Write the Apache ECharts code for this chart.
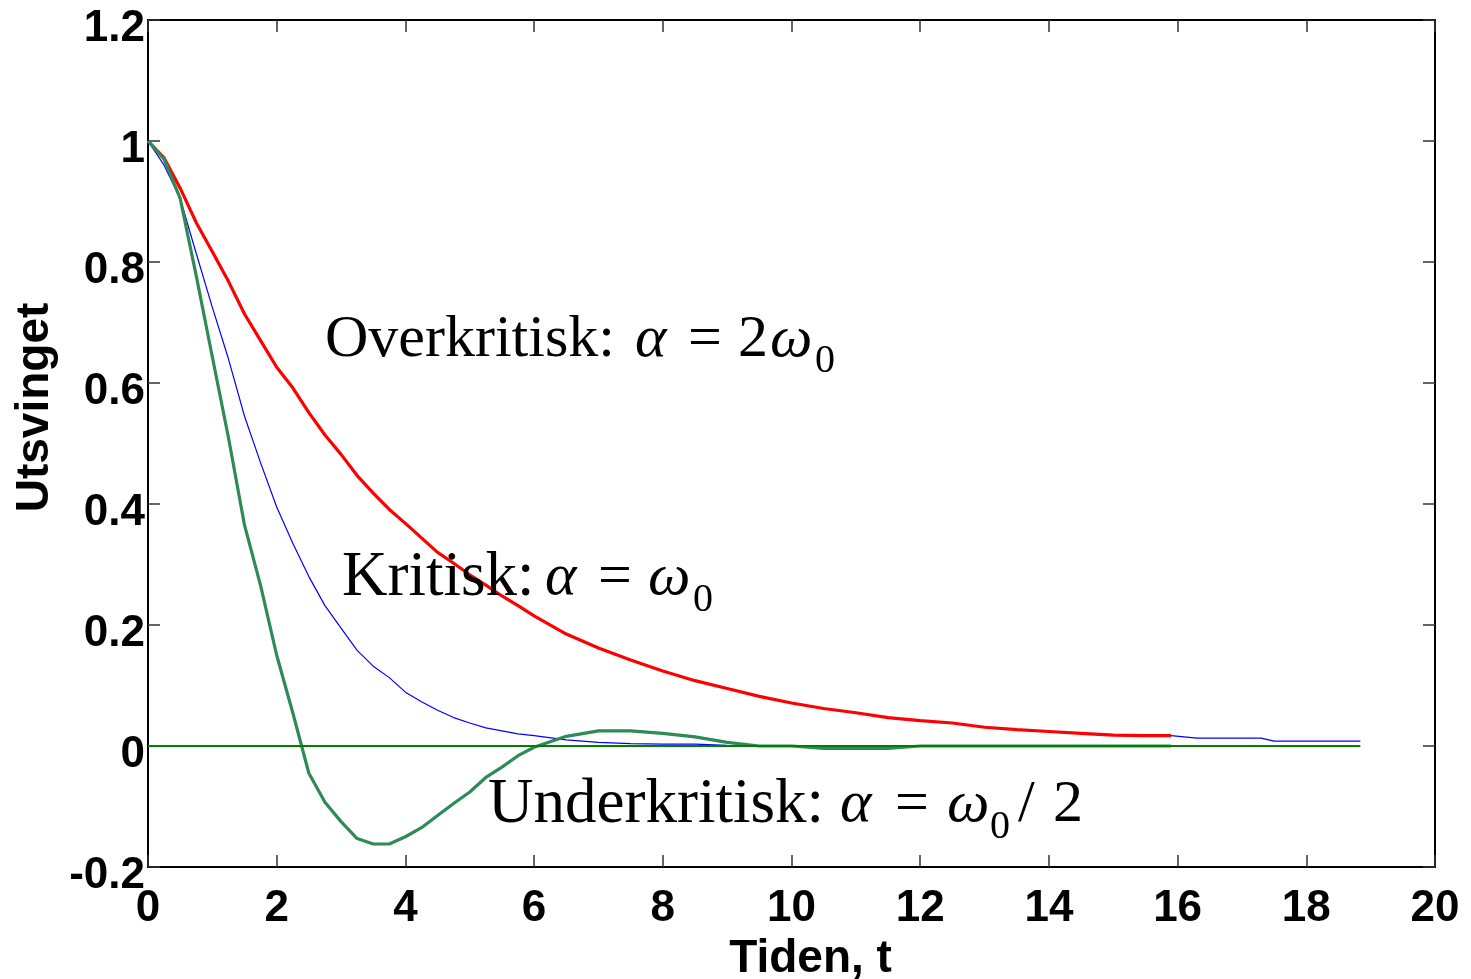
<!DOCTYPE html>
<html>
<head>
<meta charset="utf-8">
<script src="https://cdn.jsdelivr.net/npm/echarts@6/dist/echarts.min.js"></script>
<style>html,body{margin:0;padding:0;background:#fff;}#c{width:1471px;height:979px;}</style>
</head>
<body>
<div id="c"></div>
<script>
// time samples (t)
var tValues = [0,0.25,0.5,0.75,1,1.25,1.5,1.75,2,2.25,2.5,2.75,3,3.25,3.5,3.75,4,4.25,4.5,4.75,5,5.25,5.5,5.75,6,
  6.5,7,7.5,8,8.5,9,9.5,10,10.5,11,11.5,12,12.5,13,13.5,14,14.5,15,15.5,15.9];
// Overkritisk: alpha = 2 omega0
var overValues = [1.0,0.972,0.922,0.865,0.817,0.768,0.714,0.67,0.626,0.592,0.551,0.514,0.482,0.447,0.418,0.391,0.368,0.344,0.32,0.302,0.283,0.266,0.248,0.232,0.215,
  0.185,0.162,0.142,0.124,0.108,0.095,0.082,0.071,0.062,0.055,0.047,0.042,0.038,0.031,0.027,0.024,0.021,0.018,0.017,0.017];
// Kritisk: alpha = omega0
var critValues = [1.0,0.96,0.905,0.814,0.725,0.64,0.545,0.468,0.395,0.335,0.28,0.232,0.195,0.158,0.132,0.113,0.089,0.073,0.059,0.047,0.038,0.03,0.025,0.02,0.017,
  0.01,0.006,0.004,0.003,0.003,0.001,0,0,0,0,0,0,0,0,0,0,0,0,0,0];
// Underkritisk: alpha = omega0 / 2
var underValues = [1.0,0.97,0.905,0.777,0.643,0.51,0.365,0.265,0.15,0.055,-0.045,-0.093,-0.125,-0.153,-0.162,-0.162,-0.15,-0.135,-0.115,-0.095,-0.076,-0.052,-0.035,-0.016,-0.002,
  0.016,0.025,0.025,0.021,0.015,0.006,0,0,-0.004,-0.004,-0.004,0,0,0,0,0,0,0,0,0];
// tail segment after t = 16
var tailT = [15.9,16.3,17.3,17.5,18.84];
var tailValues = [0.017,0.013,0.013,0.008,0.008];
// zero reference line
var zeroT = [0,18.84];
var zeroValues = [0,0];

var xTicks = {min:0, max:20, interval:2};
var yTicks = {min:-0.2, max:1.2, interval:0.2};

function pairs(ts, vs){ return ts.map(function(t,i){ return [t, vs[i]]; }); }

var chart = echarts.init(document.getElementById('c'), null, {renderer:'canvas'});
var labelFont = {fontFamily:'Liberation Sans', fontWeight:'bold', fontSize:44, color:'#000'};
var tickStyle = {show:true, inside:true, length:12, lineStyle:{color:'#333', width:1.5}};
var lineStyleAxis = {show:true, onZero:false, lineStyle:{color:'#000', width:2}};

var serif = '"Liberation Serif", "Times New Roman", serif';
function txt(text, x, y, size, italic){
  return {type:'text', x:x, y:y, style:{text:text, font:(italic?'italic ':'')+size+'px '+serif, fill:'#000', align:'left', verticalAlign:'middle'}, z:100};
}

chart.setOption({
  animation:false,
  backgroundColor:'#fff',
  grid:{left:148, top:20, right:36, bottom:112, containLabel:false, outerBoundsMode:'none'},
  xAxis:[
    {type:'value', position:'bottom', min:xTicks.min, max:xTicks.max, interval:xTicks.interval,
     axisLine:lineStyleAxis, axisTick:tickStyle, splitLine:{show:false},
     axisLabel:Object.assign({margin:20}, labelFont),
     name:'Tiden, t', nameLocation:'middle', nameGap:64,
     nameTextStyle:{fontFamily:'Liberation Sans', fontWeight:'bold', fontSize:46, color:'#000', padding:[0,0,0,38]}},
    {type:'value', position:'top', min:xTicks.min, max:xTicks.max, interval:xTicks.interval,
     axisLine:lineStyleAxis, axisTick:tickStyle, splitLine:{show:false}, axisLabel:{show:false}}
  ],
  yAxis:[
    {type:'value', position:'left', min:yTicks.min, max:yTicks.max, interval:yTicks.interval,
     axisLine:lineStyleAxis, axisTick:tickStyle, splitLine:{show:false},
     axisLabel:Object.assign({margin:3, verticalAlign:'top', lineHeight:18}, labelFont),
     name:'Utsvinget', nameLocation:'middle', nameGap:90,
     nameTextStyle:{fontFamily:'Liberation Sans', fontWeight:'bold', fontSize:46, color:'#000', padding:[0,0,0,72]}},
    {type:'value', position:'right', min:yTicks.min, max:yTicks.max, interval:yTicks.interval,
     axisLine:lineStyleAxis, axisTick:tickStyle, splitLine:{show:false}, axisLabel:{show:false}}
  ],
  series:[
    {name:'Overkritisk', type:'line', data:pairs(tValues, overValues), showSymbol:false, lineStyle:{color:'#ff0000', width:3.2}, z:2},
    {name:'Kritisk', type:'line', data:pairs(tValues, critValues), showSymbol:false, lineStyle:{color:'#0000ff', width:1.2}, z:3},
    {name:'Underkritisk', type:'line', data:pairs(tValues, underValues), showSymbol:false, lineStyle:{color:'#2e8b57', width:3.2}, z:4},
    {name:'Null', type:'line', data:pairs(zeroT, zeroValues), showSymbol:false, lineStyle:{color:'#008000', width:2}, z:5},
    {name:'Hale', type:'line', data:pairs(tailT, tailValues), showSymbol:false, lineStyle:{color:'#0000ff', width:1.2}, z:5}
  ],
  graphic:[
    txt('Overkritisk:', 325, 340, 60, false),
    txt('\u03b1', 635, 340, 60, true),
    txt('=', 688, 340, 60, false),
    txt('2', 738, 340, 60, false),
    txt('\u03c9', 770, 340, 60, true),
    txt('0', 815, 361, 40, false),

    txt('Kritisk:', 342, 578, 63, false),
    txt('\u03b1', 545, 578, 60, true),
    txt('=', 598, 578, 60, false),
    txt('\u03c9', 648, 578, 60, true),
    txt('0', 693, 600, 40, false),

    txt('Underkritisk:', 488, 805, 63, false),
    txt('\u03b1', 840, 805, 60, true),
    txt('=', 895, 805, 60, false),
    txt('\u03c9', 947, 805, 60, true),
    txt('0', 990, 827, 40, false),
    txt('/', 1018, 805, 60, false),
    txt('2', 1053, 805, 60, false)
  ]
});
</script>
</body>
</html>
